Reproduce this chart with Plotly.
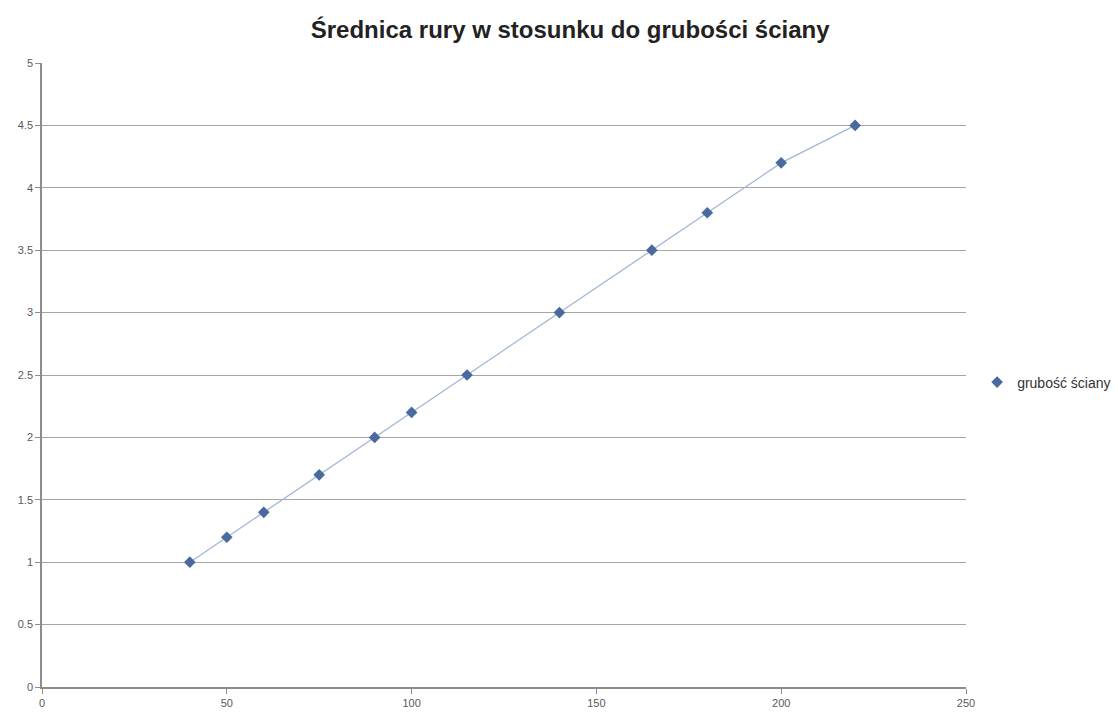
import plotly.graph_objects as go

# pipe diameter vs. wall thickness
srednica = [40, 50, 60, 75, 90, 100, 115, 140, 165, 180, 200, 220]
grubosc = [1.0, 1.2, 1.4, 1.7, 2.0, 2.2, 2.5, 3.0, 3.5, 3.8, 4.2, 4.5]

x_ticks = [0, 50, 100, 150, 200, 250]
y_ticks = [0, 0.5, 1, 1.5, 2, 2.5, 3, 3.5, 4, 4.5, 5]
y_labels = ["0", "0.5", "1", "1.5", "2", "2.5", "3", "3.5", "4", "4.5", "5"]

fig = go.Figure()

# connecting line (kept out of the legend)
fig.add_trace(go.Scatter(
    x=srednica, y=grubosc, mode="lines",
    line=dict(color="#a3b7d6", width=1.3),
    showlegend=False, hoverinfo="skip",
))

fig.add_trace(go.Scatter(
    x=srednica, y=grubosc, mode="markers",
    name="grubość ściany",
    marker=dict(symbol="diamond", size=9, color="#4a6a9e"),
))

fig.update_layout(
    width=1118, height=715,
    margin=dict(l=42, r=152, t=63, b=28, autoexpand=False),
    paper_bgcolor="white", plot_bgcolor="white",
    font=dict(family="Liberation Sans, Arial, sans-serif", color="#404040"),
    title=dict(
        text="<b>Średnica rury w stosunku do grubości ściany</b>",
        x=0.51, xanchor="center", y=0.958, yanchor="middle",
        font=dict(size=24, color="#222222"),
    ),
    xaxis=dict(
        range=[0, 250], tickvals=x_ticks, showgrid=False, zeroline=False,
        showline=True, linecolor="#8c8c8c", linewidth=1.5,
        ticks="outside", ticklen=5, tickcolor="#8c8c8c",
        tickfont=dict(size=11, color="#595959"), automargin=False,
    ),
    yaxis=dict(
        range=[0, 5], tickvals=y_ticks, ticktext=y_labels,
        showgrid=True, gridcolor="#a6a6a6", gridwidth=1, zeroline=False,
        showline=True, linecolor="#8c8c8c", linewidth=1.5,
        ticks="outside", ticklen=5, tickcolor="#8c8c8c",
        tickfont=dict(size=11, color="#595959"), automargin=False,
    ),
    legend=dict(
        xref="container", x=0.874, y=0.488, xanchor="left", yanchor="middle",
        font=dict(size=14, color="#333333"),
        itemwidth=30,
    ),
)

fig.write_html("out.html")
